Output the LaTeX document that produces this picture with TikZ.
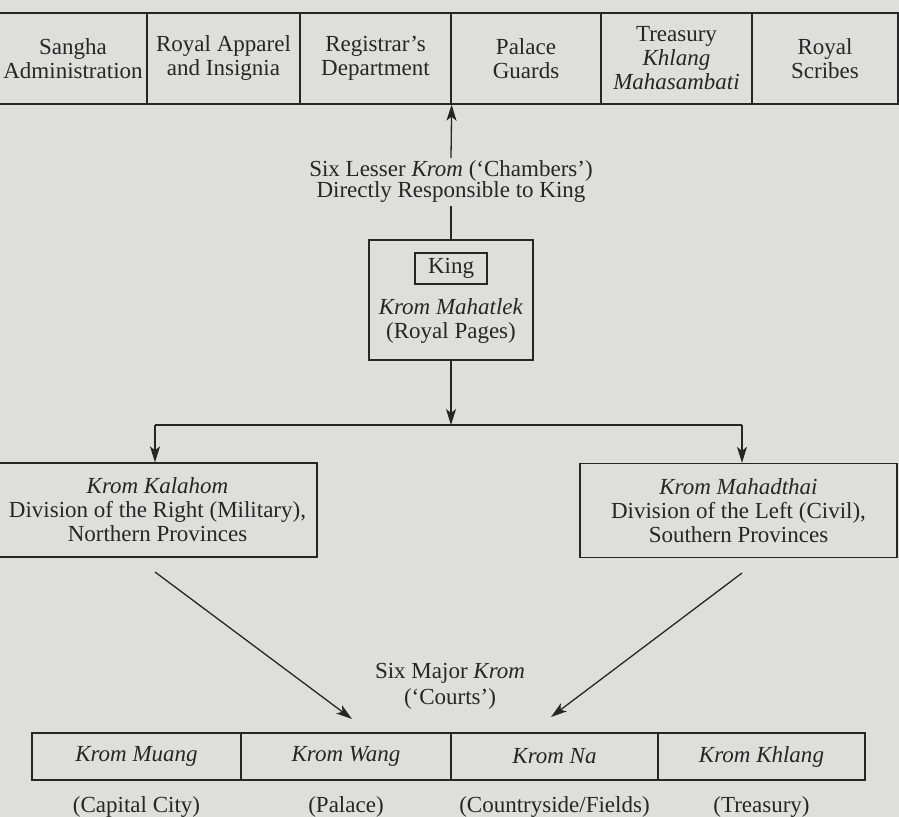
\documentclass[tikz,border=0pt]{standalone}
\usepackage{fontspec}
\setmainfont{Liberation Serif}
\usetikzlibrary{arrows.meta}
\definecolor{paper}{RGB}{222,222,219}
\definecolor{ink}{RGB}{38,38,38}
\newcommand{\chartfont}{\fontsize{23bp}{24bp}\selectfont}

\begin{document}
\begin{tikzpicture}[x=1bp,y=-1bp,
  every node/.style={font=\chartfont, text=ink, align=center, inner sep=0pt},
  frame/.style={draw=ink, line width=1.3bp},
  topcell/.style={frame, minimum height=91bp},
  botcell/.style={frame, minimum height=47bp},
  divbox/.style={frame, minimum height=94bp},
  link/.style={draw=ink, line width=1.3bp},
  arrow/.style={link, -{Stealth[length=16bp,width=10bp,inset=4bp]}}]

% page
\fill[paper] (0,0) rectangle (899,817);
\useasboundingbox (0,0) rectangle (899,817);

% six lesser chambers
\node[topcell, minimum width=148bp] (t1) at (73,58.5) {Sangha\\Administration};
\node[topcell, minimum width=153bp] (t2) at (223.5,58.5) {Royal Apparel\\and Insignia};
\node[topcell, minimum width=151bp] (t3) at (375.5,58.5) {Registrar’s\\Department};
\node[topcell, minimum width=150bp] (t4) at (526,58.5) {Palace\\Guards};
\node[topcell, minimum width=151bp] (t5) at (676.5,58.5) {Treasury\\\textit{Khlang}\\\textit{Mahasambati}};
\node[topcell, minimum width=146bp] (t6) at (825,58.5) {Royal\\Scribes};

\node[inner sep=3bp, font={\fontsize{23bp}{21bp}\selectfont}] (lesser) at (451,182)
  {Six Lesser \textit{Krom} (‘Chambers’)\\Directly Responsible to King};

% king and royal pages
\node[frame, minimum width=164bp, minimum height=120bp] (court) at (451,300) {};
\node[frame, minimum width=72bp, minimum height=31bp] (king) at (451,268.5) {King};
\node (pages) at (451,321) {\textit{Krom Mahatlek}\\(Royal Pages)};

\draw[link] (court.north) -- (lesser.south);
\draw[arrow] (lesser.north) -- (t3.south east);

% split to the two divisions
\coordinate (split) at (451,425);
\coordinate (sl) at (155,425);
\coordinate (sr) at (742,425);
\draw[arrow] (court.south) -- (split);
\draw[link] (sl) -- (sr);

\node[divbox, minimum width=319bp] (kalahom) at (157.5,510)
  {\textit{Krom Kalahom}\\Division of the Right (Military),\\Northern Provinces};
\node[divbox, minimum width=317bp] (mahadthai) at (738.5,510.5)
  {\textit{Krom Mahadthai}\\Division of the Left (Civil),\\Southern Provinces};

\draw[arrow] (sl) -- (sl |- kalahom.north);
\draw[arrow] (sr) -- (sr |- mahadthai.north);

% arrows down to the six major courts
\coordinate (kfoot) at (155,572);
\coordinate (kend) at (352,719);
\coordinate (mfoot) at (742,573);
\coordinate (mend) at (551,717);
\draw[arrow] (kfoot) -- (kend);
\draw[arrow] (mfoot) -- (mend);

\node[font={\fontsize{23bp}{26bp}\selectfont}] (major) at (450,686)
  {Six Major \textit{Krom}\\(‘Courts’)};

% the major courts
\node[botcell, minimum width=209bp] (muang) at (136.5,756.5) {\textit{Krom Muang}};
\node[botcell, minimum width=210bp] (wang) at (346,756.5) {\textit{Krom Wang}};
\node[botcell, minimum width=207bp] (na) at (554.5,756.5) {\textit{Krom Na}};
\node[botcell, minimum width=207bp] (khlang) at (761.5,756.5) {\textit{Krom Khlang}};

\node[anchor=base] (muangnote) at (136.5,812) {(Capital City)};
\node[anchor=base] (wangnote) at (346,812) {(Palace)};
\node[anchor=base] (nanote) at (554.5,812) {(Countryside/Fields)};
\node[anchor=base] (khlangnote) at (761.5,812) {(Treasury)};
\end{tikzpicture}
\end{document}
